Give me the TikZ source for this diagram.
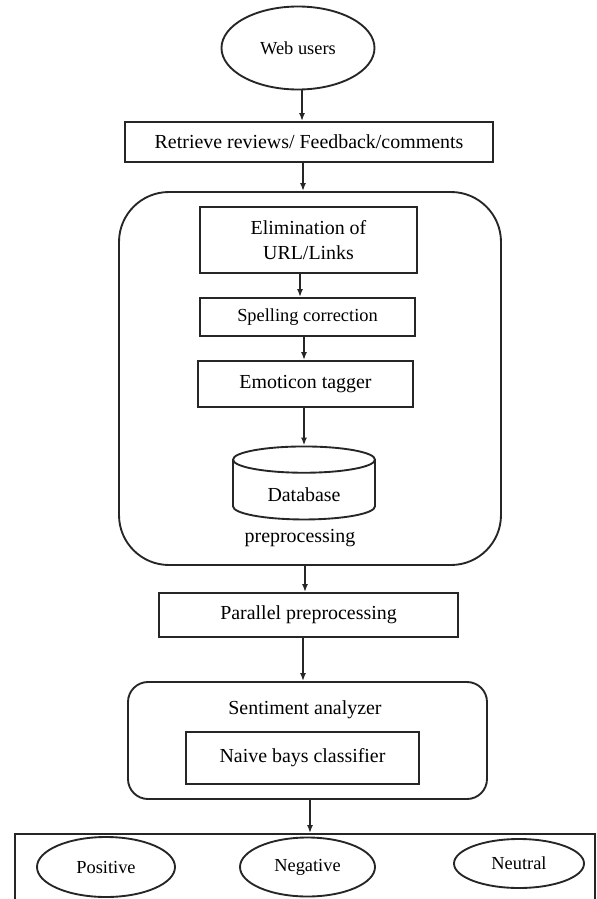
\documentclass[tikz,border=0pt]{standalone}
\usepackage{fontspec}
\setmainfont{Liberation Serif}
\usetikzlibrary{shapes, arrows.meta, positioning, calc}

\begin{document}
\begin{tikzpicture}[
			x=0.3mm, y=-0.3mm,
			>={Latex[length=2.4mm, width=1.8mm]},
			line width=1.6pt,
			every node/.style={font=\fontsize{17}{22}\selectfont, inner sep=0pt},
			block/.style={draw=black!85, rectangle, align=center},
			oval/.style={draw=black!85, ellipse},
			group/.style={draw=black!85, rectangle},
			store/.style={draw=black!85, cylinder, shape border rotate=90, aspect=0.36},
			link/.style={->, draw=black!85}
			]
			\useasboundingbox (0,0) rectangle (597,899);
			% --- Definicja węzłów ---
			\node[oval, minimum width=45.9mm, minimum height=24.9mm] (users) at (298,48) {\fontsize{15.7}{19}\selectfont Web users};
			\node[block, minimum width=110.4mm, minimum height=12mm] (retrieve) at (309,142) {Retrieve reviews/ Feedback/comments};
			% Blok wstępnego przetwarzania
			\node[group, rounded corners=15mm, minimum width=114.6mm, minimum height=111.9mm] (prep) at (310,378.5) {};
			\node[block, minimum width=65.1mm, minimum height=19.8mm] (elim) at (308.5,240) {Elimination of\\URL/Links};
			\node[block, minimum width=64.5mm, minimum height=11.4mm] (spell) at (307.5,317) {\fontsize{15.7}{19}\selectfont Spelling correction};
			\node[block, minimum width=64.5mm, minimum height=13.8mm] (emoticon) at (305.5,384) {Emoticon tagger};
			\node[store, minimum width=42.6mm, minimum height=21.9mm, text height=7mm, text depth=0pt] (db) at (304,490) {Database};
			\node (preplabel) at (300,538) {preprocessing};
			\node[block, minimum width=89.7mm, minimum height=13.2mm] (parallel) at (308.5,615) {Parallel preprocessing};
			% Analizator sentymentu
			\node[group, rounded corners=6mm, minimum width=107.7mm, minimum height=35.1mm] (senti) at (307.5,740.5) {};
			\node (sentilabel) at (305,710) {Sentiment analyzer};
			\node[block, minimum width=69.9mm, minimum height=15.6mm] (naive) at (302.5,758) {Naive bays classifier};
			% Wyniki
			\node[group, minimum width=174mm, minimum height=21.6mm] (result) at (305,870) {};
			\node[oval, minimum width=41.4mm, minimum height=18mm] (positive) at (106,867) {\fontsize{15.7}{19}\selectfont Positive};
			\node[oval, minimum width=40.5mm, minimum height=17.7mm] (negative) at (307.5,867) {\fontsize{15.7}{19}\selectfont Negative};
			\node[oval, minimum width=39mm, minimum height=14.7mm] (neutral) at (519,863.5) {\fontsize{15.7}{19}\selectfont Neutral};

			% --- Strzałki ---
			\draw[link] ($(users.south)+(4,0)$) -- ($(users.south |- retrieve.north)+(4,0)$);
			\draw[link] ($(retrieve.south)+(-6,0)$) -- ($(retrieve.south |- prep.north)+(-6,0)$);
			\draw[link] ($(elim.south)+(-8.5,0)$) -- ($(elim.south |- spell.north)+(-8.5,0)$);
			\draw[link] ($(spell.south)+(-3.5,0)$) -- ($(spell.south |- emoticon.north)+(-3.5,0)$);
			\draw[link] (emoticon.south -| db.north) -- (db.north);
			\draw[link] ($(prep.south)+(-5,0)$) -- ($(prep.south |- parallel.north)+(-5,0)$);
			\draw[link] ($(parallel.south)+(-5.5,0)$) -- ($(parallel.south |- senti.north)+(-5.5,0)$);
			\draw[link] ($(senti.south)+(2.5,0)$) -- ($(senti.south |- result.north)+(2.5,0)$);
		\end{tikzpicture}
\end{document}
